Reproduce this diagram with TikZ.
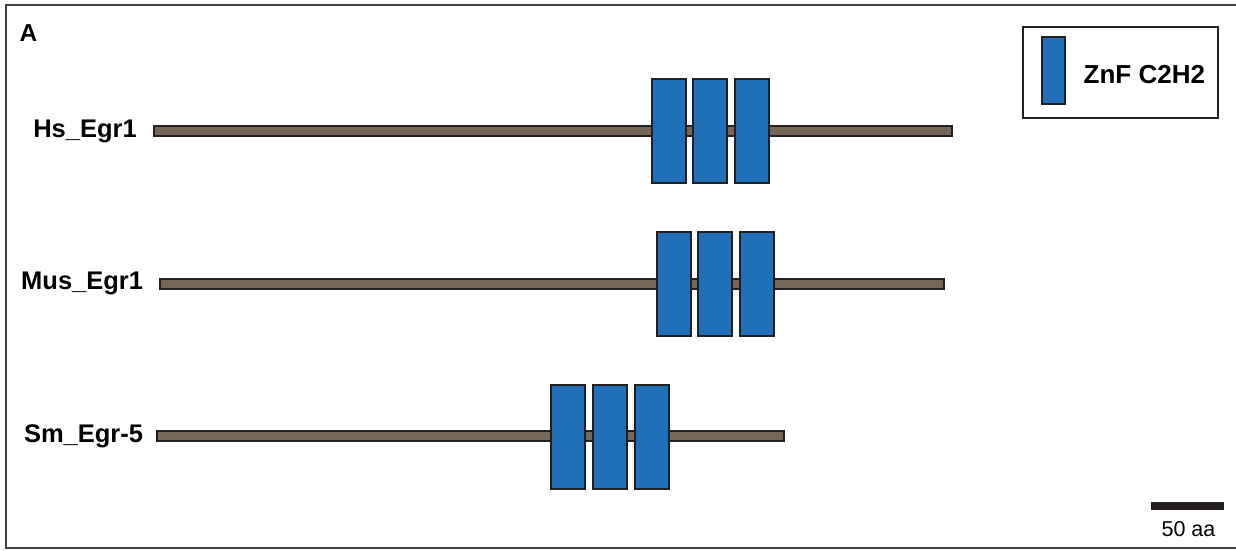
\documentclass[tikz,border=0pt]{standalone}
\usepackage{fontspec}
\setmainfont{Liberation Sans}
\definecolor{barfill}{HTML}{756858}
\definecolor{zfblue}{HTML}{1F70B8}
\definecolor{edge}{HTML}{231F20}
\definecolor{framec}{HTML}{404040}
\begin{document}
\begin{tikzpicture}[x=1pt,y=-1pt,
  bar/.style={draw=edge, fill=barfill, line width=2pt, inner sep=0pt, minimum height=10pt},
  zf/.style={draw=edge, fill=zfblue, line width=2pt, inner sep=0pt, minimum width=34pt, minimum height=104pt},
  lab/.style={font=\fontsize{25.5}{30}\selectfont\bfseries, inner sep=0pt, anchor=base east},
  frameline/.style={draw=framec, line width=2pt}]
\useasboundingbox (0,0) rectangle (1236,550);
\fill[white] (0,0) rectangle (1236,550);
\draw[frameline] (1236,5) -- (6,5) -- (6,548) -- (1236,548);

\node[font=\fontsize{24.5}{29}\selectfont\bfseries, inner sep=0pt, anchor=base west] (A) at (19.5,41.7) {A};

% Hs_Egr1
\node[lab] (lhs) at (137,137.5) {Hs\_Egr1};
\node[bar, minimum width=798pt] (bhs) at (552.5,130.8) {};
\node[zf] (hs1) at (668.8,130.8) {};
\node[zf] (hs2) at (710.0,130.8) {};
\node[zf] (hs3) at (752.0,130.8) {};

% Mus_Egr1
\node[lab] (lmus) at (143.3,289.5) {Mus\_Egr1};
\node[bar, minimum width=784pt] (bmus) at (552.2,283.8) {};
\node[zf] (mus1) at (673.9,283.8) {};
\node[zf] (mus2) at (715.2,283.8) {};
\node[zf] (mus3) at (757.2,283.8) {};

% Sm_Egr-5
\node[lab] (lsm) at (143.3,442.7) {Sm\_Egr-5};
\node[bar, minimum width=627pt] (bsm) at (470.4,436.3) {};
\node[zf] (sm1) at (568.3,436.7) {};
\node[zf] (sm2) at (609.7,436.7) {};
\node[zf] (sm3) at (651.7,436.7) {};

% legend
\node[draw=edge, line width=1.8pt, inner sep=0pt, minimum width=195pt, minimum height=91pt] (leg) at (1120.8,72.8) {};
\node[zf, minimum width=22.7pt, minimum height=67.6pt] (legzf) at (1053.6,70.5) {};
\node[font=\fontsize{26}{31}\selectfont\bfseries, inner sep=0pt, anchor=west] (legtxt) at (1083.5,75) {ZnF C2H2};

% scale bar
\coordinate (sbl) at (1150.7,505.8);
\coordinate (sbr) at (1224.3,505.8);
\draw[edge, line width=8pt] (sbl) -- (sbr);
\node[font=\fontsize{21.5}{26}\selectfont, inner sep=0pt, anchor=base] (sbt) at (1188.5,536.5) {50 aa};
\end{tikzpicture}
\end{document}
